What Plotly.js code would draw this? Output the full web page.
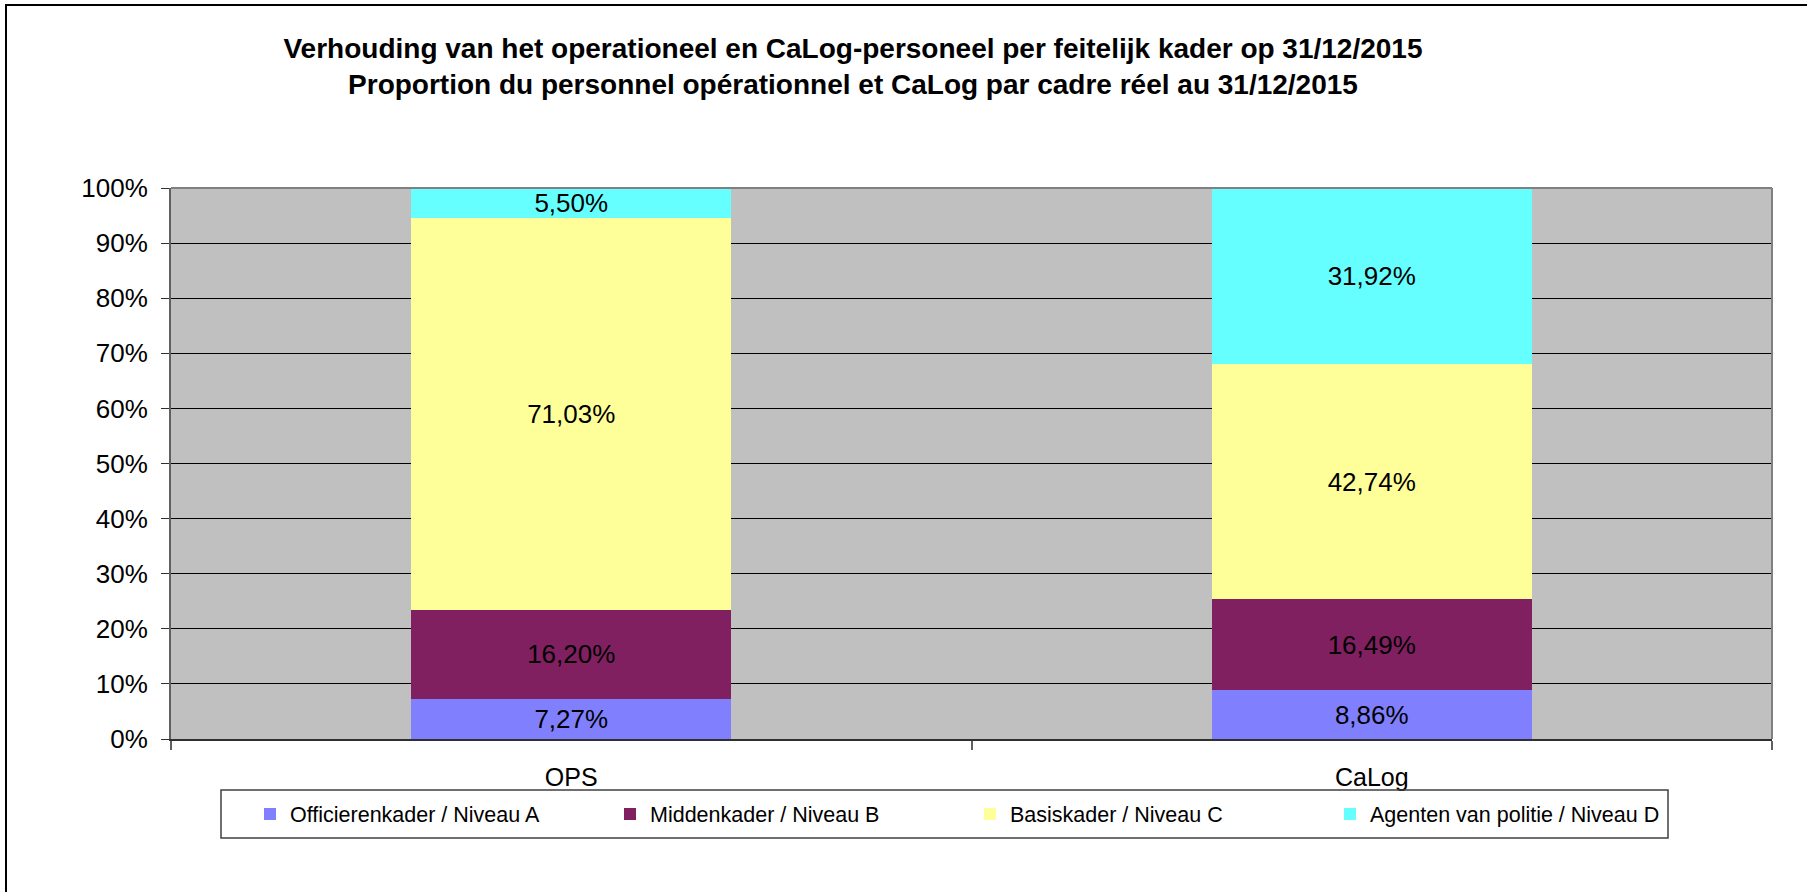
<!DOCTYPE html>
<html>
<head>
<meta charset="utf-8">
<script src="https://cdn.plot.ly/plotly-3.0.1.min.js"></script>
<style>html,body{margin:0;padding:0;background:#fff;}#chart{width:1807px;height:892px;}</style>
</head>
<body>
<div id="chart"></div>
<script>
const categories = ["OPS", "CaLog"];
const seriesNames = [
  "Officierenkader / Niveau A",
  "Middenkader / Niveau B",
  "Basiskader / Niveau C",
  "Agenten van politie / Niveau D"
];
const niveauA = [7.27, 8.86];
const niveauB = [16.20, 16.49];
const niveauC = [71.03, 42.74];
const niveauD = [5.50, 31.92];
const seriesColors = ["#8080FF", "#802060", "#FFFF99", "#66FFFF"];
const yTickVals = [0, 10, 20, 30, 40, 50, 60, 70, 80, 90, 100];
const yTickText = ["0%", "10%", "20%", "30%", "40%", "50%", "60%", "70%", "80%", "90%", "100%"];

const FONT = "Liberation Sans, Arial, sans-serif";
const seriesValues = [niveauA, niveauB, niveauC, niveauD];

const traces = seriesValues.map((vals, i) => ({
  type: "bar",
  name: seriesNames[i],
  x: categories,
  y: vals,
  marker: {color: seriesColors[i], line: {width: 0}},
  texttemplate: "%{y:.2f}%",
  textposition: "inside",
  insidetextanchor: "middle",
  constraintext: "none",
  textangle: 0,
  textfont: {family: FONT, size: 26, color: "#000"},
  hoverinfo: "skip"
}));

const layout = {
  width: 1807,
  height: 892,
  margin: {l: 171, r: 35, t: 188, b: 153},
  paper_bgcolor: "#ffffff",
  plot_bgcolor: "#C0C0C0",
  separators: ",.",
  barmode: "stack",
  bargap: 0.6,
  font: {family: FONT, color: "#000"},
  title: {
    text: "<b>Verhouding van het operationeel en CaLog-personeel per feitelijk kader op 31/12/2015</b><br><b>Proportion du personnel opérationnel et CaLog par cadre réel au 31/12/2015</b>",
    font: {family: FONT, size: 28, color: "#000"},
    x: 853 / 1807,
    xref: "container",
    xanchor: "center",
    y: 1 - 58 / 892,
    yref: "container",
    yanchor: "middle"
  },
  xaxis: {
    type: "category",
    tickson: "boundaries",
    ticks: "outside",
    ticklen: 9,
    tickwidth: 2,
    tickcolor: "#606060",
    showgrid: false,
    showline: true,
    linecolor: "#303030",
    linewidth: 2,
    mirror: false,
    tickfont: {family: FONT, size: 25, color: "#000"},
    ticklabelstandoff: 15,
    fixedrange: true
  },
  yaxis: {
    range: [0, 100],
    tickmode: "array",
    tickvals: yTickVals,
    ticktext: yTickText,
    ticks: "outside",
    ticklen: 8,
    tickwidth: 1,
    tickcolor: "#303030",
    showgrid: true,
    gridcolor: "#000000",
    gridwidth: 1,
    showline: true,
    linecolor: "#606060",
    linewidth: 2,
    zeroline: false,
    tickfont: {family: FONT, size: 26, color: "#000"},
    ticklabelstandoff: 8,
    fixedrange: true
  },
  showlegend: true,
  legend: {
    orientation: "h",
    traceorder: "normal",
    x: (250 - 171) / 1601,
    xanchor: "left",
    y: (739 - 814) / 551,
    yanchor: "middle",
    entrywidth: 315,
    entrywidthmode: "pixels",
    font: {family: FONT, size: 21.5, color: "#000"},
    bgcolor: "rgba(0,0,0,0)",
    borderwidth: 0
  },
  shapes: [
    {type: "line", xref: "paper", yref: "paper", x0: 0, x1: 1, y0: 1, y1: 1, line: {color: "#808080", width: 2}},
    {type: "line", xref: "paper", yref: "paper", x0: 1, x1: 1, y0: 0, y1: 1, line: {color: "#808080", width: 2}},
    {type: "rect", xref: "paper", yref: "paper",
     x0: (221 - 171) / 1601, x1: (1668 - 171) / 1601,
     y0: (739 - 838) / 551, y1: (739 - 790) / 551,
     line: {color: "#404040", width: 1.5}, fillcolor: "rgba(0,0,0,0)"},
    {type: "line", xref: "paper", yref: "paper",
     x0: (5 - 171) / 1601, x1: (1807 - 171) / 1601,
     y0: (739 - 5) / 551, y1: (739 - 5) / 551,
     line: {color: "#000", width: 2}},
    {type: "line", xref: "paper", yref: "paper",
     x0: (6 - 171) / 1601, x1: (6 - 171) / 1601,
     y0: (739 - 5) / 551, y1: (739 - 892) / 551,
     line: {color: "#000", width: 2}}
  ]
};

Plotly.newPlot("chart", traces, layout, {displayModeBar: false, staticPlot: true});
</script>
</body>
</html>
